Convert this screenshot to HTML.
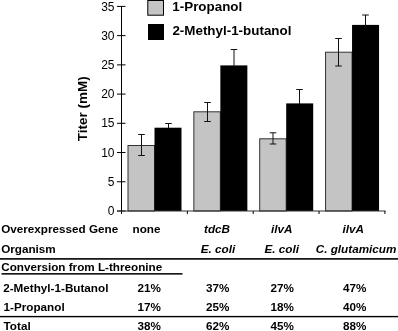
<!DOCTYPE html>
<html><head><meta charset="utf-8"><style>
html,body{margin:0;padding:0;background:#fff;width:398px;height:331px;overflow:hidden}
svg{display:block;will-change:transform}
text{font-family:"Liberation Sans",sans-serif;fill:#000}
.ax{font-size:12px}
.ti{font-size:13.5px;font-weight:bold}
.lg{font-size:13.4px;font-weight:bold}
.tb{font-size:11.7px;font-weight:bold}
.tbi{font-size:11.7px;font-weight:bold;font-style:italic}
</style></head><body>
<svg width="398" height="331" viewBox="0 0 398 331">
<rect x="128.00" y="145.5" width="26.50" height="65.5" fill="#c4c4c4" stroke="#333" stroke-width="1"/>
<rect x="154.50" y="127.7" width="27.00" height="83.3" fill="#000"/>
<path d="M141.5 134.5V155.5M138.20 134.5h6.6M138.20 155.5h6.6" stroke="#111" stroke-width="1" fill="none"/>
<path d="M168.5 123.5V128.7M165.20 123.5h6.6" stroke="#111" stroke-width="1" fill="none"/>
<rect x="193.85" y="111.8" width="26.50" height="99.2" fill="#c4c4c4" stroke="#333" stroke-width="1"/>
<rect x="220.35" y="65.4" width="27.00" height="145.6" fill="#000"/>
<path d="M207.5 102.5V121.5M204.20 102.5h6.6M204.20 121.5h6.6" stroke="#111" stroke-width="1" fill="none"/>
<path d="M234.0 49.5V66.4M230.70 49.5h6.6" stroke="#111" stroke-width="1" fill="none"/>
<rect x="259.70" y="138.8" width="26.50" height="72.19999999999999" fill="#c4c4c4" stroke="#333" stroke-width="1"/>
<rect x="286.20" y="103.4" width="27.00" height="107.6" fill="#000"/>
<path d="M273.0 132.8V144.0M269.70 132.8h6.6M269.70 144.0h6.6" stroke="#111" stroke-width="1" fill="none"/>
<path d="M299.5 89.5V104.4M296.20 89.5h6.6" stroke="#111" stroke-width="1" fill="none"/>
<rect x="325.55" y="52.2" width="26.50" height="158.8" fill="#c4c4c4" stroke="#333" stroke-width="1"/>
<rect x="352.05" y="24.9" width="27.00" height="186.1" fill="#000"/>
<path d="M338.5 38.5V66.0M335.20 38.5h6.6M335.20 66.0h6.6" stroke="#111" stroke-width="1" fill="none"/>
<path d="M365.5 15.0V25.9M362.20 15.0h6.6" stroke="#111" stroke-width="1" fill="none"/>
<path d="M121.5 6V214" stroke="#000" stroke-width="1"/>
<path d="M117 6.40H125.5" stroke="#000" stroke-width="1"/>
<path d="M117 35.63H125.5" stroke="#000" stroke-width="1"/>
<path d="M117 64.86H125.5" stroke="#000" stroke-width="1"/>
<path d="M117 94.09H125.5" stroke="#000" stroke-width="1"/>
<path d="M117 123.31H125.5" stroke="#000" stroke-width="1"/>
<path d="M117 152.54H125.5" stroke="#000" stroke-width="1"/>
<path d="M117 181.77H125.5" stroke="#000" stroke-width="1"/>
<path d="M117 211.00H125.5" stroke="#000" stroke-width="1"/>
<path d="M117 211H385.5" stroke="#333" stroke-width="1.2"/>
<path d="M187.35 211V214" stroke="#000" stroke-width="1"/>
<path d="M253.20 211V214" stroke="#000" stroke-width="1"/>
<path d="M319.05 211V214" stroke="#000" stroke-width="1"/>
<path d="M384.90 211V214" stroke="#000" stroke-width="1"/>
<text x="114.5" y="10.50" text-anchor="end" class="ax">35</text>
<text x="114.5" y="39.73" text-anchor="end" class="ax">30</text>
<text x="114.5" y="68.96" text-anchor="end" class="ax">25</text>
<text x="114.5" y="98.19" text-anchor="end" class="ax">20</text>
<text x="114.5" y="127.41" text-anchor="end" class="ax">15</text>
<text x="114.5" y="156.64" text-anchor="end" class="ax">10</text>
<text x="114.5" y="185.87" text-anchor="end" class="ax">5</text>
<text x="114.5" y="215.10" text-anchor="end" class="ax">0</text>
<text transform="translate(87.3,141.3) rotate(-90)" class="ti">Titer (mM)</text>
<rect x="147.8" y="0.5" width="15.7" height="14.7" fill="#c4c4c4" stroke="#000" stroke-width="1"/>
<rect x="148" y="24" width="16" height="16" fill="#000"/>
<text x="172.3" y="11.3" class="lg">1-Propanol</text>
<text x="172.4" y="35.1" class="lg">2-Methyl-1-butanol</text>
<text x="1.2" y="233" class="tb">Overexpressed Gene</text>
<text x="132.6" y="233" class="tb">none</text>
<text x="204" y="233" class="tbi">tdcB</text>
<text x="271.1" y="233" class="tbi">ilvA</text>
<text x="342.4" y="233" class="tbi">ilvA</text>
<text x="1.2" y="252.5" class="tb">Organism</text>
<text x="200.8" y="252.6" class="tbi">E. coli</text>
<text x="264.5" y="252.6" class="tbi">E. coli</text>
<text x="315.8" y="252.6" class="tbi">C. glutamicum</text>
<rect x="0" y="258.1" width="398" height="1.6" fill="#000"/>
<text x="1.2" y="271.1" class="tb">Conversion from L-threonine</text>
<rect x="1.5" y="273.1" width="181" height="1.5" fill="#000"/>
<text x="3.2" y="291.7" class="tb">2-Methyl-1-Butanol</text>
<text x="3.6" y="311.2" class="tb">1-Propanol</text>
<text x="3.6" y="330.1" class="tb">Total</text>
<text x="137.4" y="291.5" class="tb">21%</text>
<text x="206.1" y="291.5" class="tb">37%</text>
<text x="270.5" y="291.5" class="tb">27%</text>
<text x="343.1" y="291.5" class="tb">47%</text>
<text x="137.4" y="311.2" class="tb">17%</text>
<text x="206.1" y="311.2" class="tb">25%</text>
<text x="270.5" y="311.2" class="tb">18%</text>
<text x="343.1" y="311.2" class="tb">40%</text>
<text x="137.4" y="330.1" class="tb">38%</text>
<text x="206.1" y="330.1" class="tb">62%</text>
<text x="270.5" y="330.1" class="tb">45%</text>
<text x="343.1" y="330.1" class="tb">88%</text>
<rect x="0" y="315.9" width="398" height="1.4" fill="#000"/>
</svg>
</body></html>
